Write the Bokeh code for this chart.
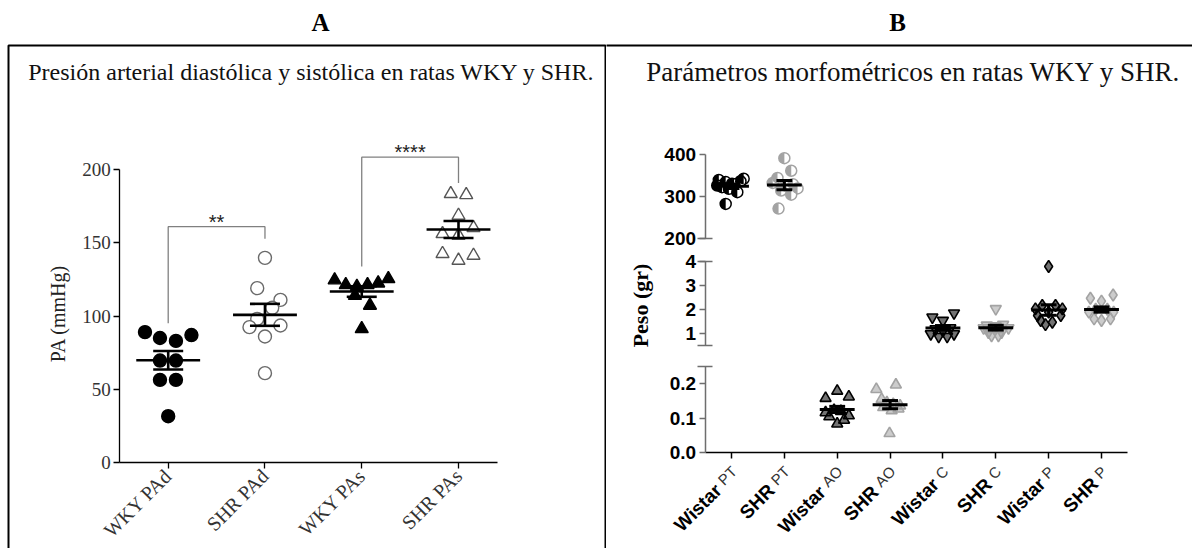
import math
from bokeh.plotting import figure
from bokeh.layouts import row
from bokeh.models import Range1d, LinearAxis, FixedTicker, BoxAnnotation, NumeralTickFormatter
from bokeh.core.properties import value
from bokeh.embed import file_html
from bokeh.resources import INLINE

# ------------------------------------------------------------------ data: panel A
a_heading = "A"
a_title = "Presión arterial diastólica y sistólica en ratas WKY y SHR."
a_ylabel = "PA (mmHg)"
a_categories = ["WKY PAd", "SHR PAd", "WKY PAs", "SHR PAs"]
a_yticks = [0, 50, 100, 150, 200]

wky_pad = [89, 85, 83, 87, 69.6, 69.6, 56.4, 56.4, 31.6]
wky_pad_jit = [-0.24, -0.085, 0.08, 0.24, -0.085, 0.08, -0.085, 0.08, 0.0]
shr_pad = [139.7, 119, 111, 105.6, 98, 92.4, 93.5, 86, 61]
shr_pad_jit = [0.0, -0.08, 0.16, 0.075, -0.08, -0.16, 0.16, 0.0, 0.0]
wky_pas = [124.5, 121.3, 120, 121.3, 122.4, 125.4, 114, 107.2, 91.2]
wky_pas_jit = [-0.28, -0.165, -0.05, 0.06, 0.17, 0.275, -0.07, 0.085, 0.0]
shr_pas = [183.4, 182.7, 168.6, 160.2, 156.1, 155, 142.5, 137.9, 141.3]
shr_pas_jit = [-0.08, 0.08, 0.0, 0.155, -0.165, 0.0, -0.165, 0.0, 0.155]

a_means = [69.8, 100.8, 116.7, 159.0]
a_sems = [6.3, 7.5, 3.6, 5.8]

sig_left = [0, 2]
sig_right = [1, 3]
sig_top = [161, 208.4]
sig_left_end = [95, 133.8]
sig_right_end = [152.7, 190.7]
sig_text = ["**", "****"]

# ------------------------------------------------------------------ data: panel B
b_heading = "B"
b_title = "Parámetros morfométricos en ratas WKY y SHR."
b_ylabel = "Peso (gr)"
b_strain = ["Wistar", "SHR", "Wistar", "SHR", "Wistar", "SHR", "Wistar", "SHR"]
b_organ = ["PT", "PT", "AO", "AO", "C", "C", "P", "P"]
b_yticks_top = [200, 300, 400]
b_yticks_mid = [1, 2, 3, 4]
b_yticks_bot = [0.0, 0.1, 0.2]

wistar_pt = [343, 340, 337, 335, 331, 330, 327, 323, 319, 311, 283]
wistar_pt_jit = [0.23, -0.24, 0.17, -0.11, 0.01, 0.05, -0.27, -0.18, -0.05, 0.11, -0.11]
shr_pt = [392, 362, 345, 333, 330, 325, 320, 315, 305, 272]
shr_pt_jit = [0.0, 0.13, -0.13, -0.22, 0.16, 0.03, 0.25, -0.06, 0.13, -0.11]
wistar_ao = [0.179, 0.158, 0.162, 0.123, 0.116, 0.107, 0.104, 0.094, 0.083, 0.12]
wistar_ao_jit = [0.0, -0.22, 0.22, -0.06, -0.22, 0.22, -0.15, 0.13, 0.0, 0.07]
shr_ao = [0.184, 0.197, 0.055, 0.155, 0.145, 0.140, 0.136, 0.131, 0.122, 0.127]
shr_ao_jit = [-0.26, 0.11, -0.01, -0.16, -0.06, 0.06, 0.19, -0.13, 0.03, 0.16]
wistar_c = [1.67, 1.84, 1.53, 1.18, 1.22, 0.97, 0.86, 0.86, 0.97, 1.10]
wistar_c_jit = [-0.2, 0.21, 0.0, -0.14, 0.14, -0.23, -0.08, 0.08, 0.21, 0.0]
shr_c = [2.02, 1.22, 1.22, 1.04, 1.04, 1.30, 0.90, 0.90, 1.36, 1.33]
shr_c_jit = [0.0, -0.23, 0.24, -0.14, 0.11, 0.0, -0.08, 0.05, 0.14, -0.17]
wistar_p = [3.79, 2.02, 2.02, 2.16, 2.16, 1.74, 1.74, 1.53, 1.46, 1.36, 1.88]
wistar_p_jit = [0.0, -0.25, 0.26, -0.12, 0.13, -0.21, 0.23, -0.15, 0.07, -0.06, 0.0]
shr_p = [2.46, 2.60, 2.34, 1.88, 2.00, 2.00, 1.88, 1.60, 1.53, 1.60]
shr_p_jit = [-0.21, 0.22, 0.0, -0.24, -0.11, 0.11, 0.23, -0.14, 0.0, 0.17]

b_means = [325, 328, 0.125, 0.139, 1.22, 1.23, 1.97, 1.99]
b_sems = [5.5, 11, 0.009, 0.012, 0.1, 0.1, 0.22, 0.11]

# ------------------------------------------------------------------ layout helpers
M = 0                      # the page template has no margin
W = 1192
H = 548
SPLIT = 606                # page x of the divider between the panels
FRAME_LEFT = 8
FRAME_TOP = 45


def lin(p0, v0, p1, v1):
    k = (v1 - v0) / (p1 - p0)
    return lambda p: v0 + (p - p0) * k


SERIF = "Liberation Serif"
SANS = "Liberation Sans"

# ================================================================== panel A
XA = lin(167.7, 0, 458.0, 3)
YA = lin(462.0, 0, 169.0, 200)
WA = SPLIT - M

pA = figure(width=WA, height=H, x_range=Range1d(XA(M), XA(SPLIT)),
            y_range=Range1d(YA(M + H), YA(M)), output_backend="svg",
            toolbar_location=None, x_axis_location=None, y_axis_location=None,
            min_border=0, outline_line_color=None)
pA.grid.visible = False

pA.add_layout(BoxAnnotation(left=XA(FRAME_LEFT), right=XA(SPLIT - 1), top=YA(FRAME_TOP), bottom=YA(M + H + 60),
                            fill_color=None, fill_alpha=0, line_color="black", line_alpha=1.0, line_width=2))

ya = LinearAxis(fixed_location=XA(119.3), bounds=(0, 200), ticker=FixedTicker(ticks=a_yticks, minor_ticks=[]),
                major_tick_out=6, major_tick_in=0, minor_tick_out=0, minor_tick_in=0,
                axis_line_color="black", axis_line_width=1.3, major_tick_line_width=1.3,
                major_label_text_font=SERIF, major_label_text_font_size="19px",
                major_label_text_color="#333333", major_label_standoff=3)
pA.add_layout(ya, "left")

xa = LinearAxis(fixed_location=0, bounds=(XA(119.3), 3.4),
                ticker=FixedTicker(ticks=list(range(len(a_categories))), minor_ticks=[]),
                major_label_overrides={i: c for i, c in enumerate(a_categories)},
                major_label_orientation=math.pi / 4,
                major_tick_out=6, major_tick_in=0, minor_tick_out=0, minor_tick_in=0,
                axis_line_color="black", axis_line_width=1.3, major_tick_line_width=1.3,
                major_label_text_font=SERIF, major_label_text_font_size="20px",
                major_label_text_color="#333333", major_label_standoff=4)
pA.add_layout(xa, "below")

a_groups = [
    (wky_pad, wky_pad_jit, "circle", "black", "black", 13),
    (shr_pad, shr_pad_jit, "circle", "white", "#6a6a6a", 13),
    (wky_pas, wky_pas_jit, "triangle", "black", "black", 13),
    (shr_pas, shr_pas_jit, "triangle", "white", "#555555", 13),
]
for i, (vals, jit, marker, fill, line, size) in enumerate(a_groups):
    pA.scatter(x=[i + j for j in jit], y=vals, marker=marker, size=size,
               fill_color=fill, line_color=line, line_width=1.4)

idx = list(range(len(a_categories)))
pA.segment(x0=[i - 0.33 for i in idx], x1=[i + 0.33 for i in idx], y0=a_means, y1=a_means,
           line_color="black", line_width=2.6)
pA.segment(x0=idx, x1=idx, y0=[m - s for m, s in zip(a_means, a_sems)],
           y1=[m + s for m, s in zip(a_means, a_sems)], line_color="black", line_width=2.6)
for sign in (1, -1):
    ys = [m + sign * s for m, s in zip(a_means, a_sems)]
    pA.segment(x0=[i - 0.155 for i in idx], x1=[i + 0.155 for i in idx], y0=ys, y1=ys,
               line_color="black", line_width=2.6)

pA.multi_line(xs=[[l, l, r, r] for l, r in zip(sig_left, sig_right)],
              ys=[[le, t, t, re] for le, t, re in zip(sig_left_end, sig_top, sig_right_end)],
              line_color="#808080", line_width=1.3)
pA.text(x=[(l + r) / 2 for l, r in zip(sig_left, sig_right)], y=sig_top, text=sig_text,
        text_align="center", text_baseline="alphabetic", y_offset=-5,
        text_font=value(SANS), text_font_size="20px", text_color="#222222")

pA.text(x=[XA(320)], y=[YA(22)], text=[a_heading], text_align="center", text_baseline="middle",
        text_font=value(SERIF), text_font_style="bold", text_font_size="25px", text_color="black")
pA.text(x=[XA(311)], y=[YA(71)], text=[a_title], text_align="center", text_baseline="middle",
        text_font=value(SERIF), text_font_size="24px", text_color="#111111")
pA.text(x=[XA(57)], y=[YA(313)], text=[a_ylabel], angle=math.pi / 2, text_align="center",
        text_baseline="middle", text_font=value(SERIF), text_font_size="20px", text_color="#222222")

# ================================================================== panel B
XB = lin(731.0, 0, 1101.0, 7)
YBb = lin(451.7, 0.0, 383.3, 0.2)
YBm = lin(332.7, 1.0, 261.0, 4.0)
YBt = lin(238.3, 200.0, 154.3, 400.0)
WB = M + W - SPLIT

pB = figure(width=WB, height=H, x_range=Range1d(XB(SPLIT), XB(M + W)),
            y_range=Range1d(YBb(M + H), YBb(M)), output_backend="svg",
            toolbar_location=None, x_axis_location=None, y_axis_location=None,
            min_border=0, outline_line_color=None)
pB.grid.visible = False
pB.extra_y_ranges = {"mid": Range1d(YBm(M + H), YBm(M)), "top": Range1d(YBt(M + H), YBt(M))}

pB.add_layout(BoxAnnotation(left=XB(SPLIT - 20), right=XB(M + W + 60), top=YBb(FRAME_TOP), bottom=YBb(M + H + 60),
                            fill_color=None, fill_alpha=0, line_color="black", line_alpha=1.0, line_width=2))

AXIS_GRAY = "#6e6e6e"
segments = [
    ("default", (0.0, 0.25), b_yticks_bot, "0.0", [0.25]),
    ("mid", (0.5, 4.0), b_yticks_mid, "0", [0.5, 4.0]),
    ("top", (200.0, 400.0), b_yticks_top, "0", [200.0]),
]
for rname, bnds, ticks, fmt, caps in segments:
    ax = LinearAxis(y_range_name=rname, fixed_location=-0.5, bounds=bnds,
                    ticker=FixedTicker(ticks=ticks, minor_ticks=[]),
                    formatter=NumeralTickFormatter(format=fmt),
                    major_tick_out=6, major_tick_in=0, minor_tick_out=0, minor_tick_in=0,
                    axis_line_color=AXIS_GRAY, axis_line_width=1.5,
                    major_tick_line_color=AXIS_GRAY, major_tick_line_width=1.5,
                    major_label_text_font=SANS, major_label_text_font_style="bold",
                    major_label_text_font_size="19px", major_label_text_color="black",
                    major_label_standoff=3)
    pB.add_layout(ax, "left")
    cap = LinearAxis(y_range_name=rname, fixed_location=-0.5, bounds=(min(caps) - 0.001, max(caps) + 0.001),
                     ticker=FixedTicker(ticks=caps, minor_ticks=[]),
                     major_tick_out=8, major_tick_in=7, minor_tick_out=0, minor_tick_in=0,
                     axis_line_color=None, major_tick_line_color=AXIS_GRAY, major_tick_line_width=1.5,
                     major_label_text_color=None)
    pB.add_layout(cap, "left")

xb = LinearAxis(fixed_location=0, bounds=(-0.5, 7.5),
                ticker=FixedTicker(ticks=list(range(len(b_strain))), minor_ticks=[]),
                major_tick_out=6, major_tick_in=0, minor_tick_out=0, minor_tick_in=0,
                axis_line_color="black", axis_line_width=1.5, major_tick_line_width=1.5,
                major_label_text_color=None)
pB.add_layout(xb, "below")

BLACK = "#000000"
GRAY = "#a3a3a3"
b_groups = [
    (wistar_pt, wistar_pt_jit, "circle", "top", BLACK),
    (shr_pt, shr_pt_jit, "circle", "top", GRAY),
    (wistar_ao, wistar_ao_jit, "triangle", "default", BLACK),
    (shr_ao, shr_ao_jit, "triangle", "default", GRAY),
    (wistar_c, wistar_c_jit, "inverted_triangle", "mid", BLACK),
    (shr_c, shr_c_jit, "inverted_triangle", "mid", GRAY),
    (wistar_p, wistar_p_jit, "diamond", "mid", BLACK),
    (shr_p, shr_p_jit, "diamond", "mid", GRAY),
]
for i, (vals, jit, marker, rname, col) in enumerate(b_groups):
    xs = [i + j for j in jit]
    if marker == "circle":
        pB.scatter(x=xs, y=vals, marker="circle", size=11, fill_color="white", line_color=col,
                   line_width=1.5, y_range_name=rname)
        pB.wedge(x=xs, y=vals, radius=5.5, radius_units="screen", start_angle=math.pi / 2,
                 end_angle=3 * math.pi / 2, fill_color=col, line_color=None, y_range_name=rname)
    else:
        size = 12 if marker == "diamond" else 11
        pB.scatter(x=xs, y=vals, marker=marker, size=size, fill_color=col, fill_alpha=0.55,
                   line_color=col, line_width=1.6, y_range_name=rname)
    m, s = b_means[i], b_sems[i]
    pB.segment(x0=[i - 0.33], x1=[i + 0.33], y0=[m], y1=[m], line_color="black", line_width=3,
               y_range_name=rname)
    pB.segment(x0=[i], x1=[i], y0=[m - s], y1=[m + s], line_color="black", line_width=3,
               y_range_name=rname)
    pB.segment(x0=[i - 0.15, i - 0.15], x1=[i + 0.15, i + 0.15], y0=[m - s, m + s], y1=[m - s, m + s],
               line_color="black", line_width=3, y_range_name=rname)

# mixed-style category labels (bold strain + light organ suffix), rotated 45 degrees
EM = {"P": 0.667, "T": 0.611, "A": 0.667, "O": 0.778, "C": 0.722}
SUF = 15
c45 = math.cos(math.pi / 4)
axis_py = 451.7
suf_x, suf_y, str_x, str_y = [], [], [], []
for i, org in enumerate(b_organ):
    tx = 731.0 + i * (370.0 / 7)
    ax_, ay_ = tx + 4, axis_py + 18
    suf_x.append(XB(ax_ - 1.5))
    suf_y.append(YBb(ay_ - 1.5))
    d = sum(EM[ch] for ch in org) * SUF + 5
    str_x.append(XB(ax_ - c45 * d))
    str_y.append(YBb(ay_ + c45 * d))
pB.text(x=suf_x, y=suf_y, text=b_organ, angle=math.pi / 4, text_align="right", text_baseline="middle",
        text_font=value(SANS), text_font_size=f"{SUF}px", text_color="#333333")
pB.text(x=str_x, y=str_y, text=b_strain, angle=math.pi / 4, text_align="right", text_baseline="middle",
        text_font=value(SANS), text_font_style="bold", text_font_size="19px", text_color="black")

pB.text(x=[XB(897)], y=[YBb(22)], text=[b_heading], text_align="center", text_baseline="middle",
        text_font=value(SERIF), text_font_style="bold", text_font_size="25px", text_color="black")
pB.text(x=[XB(913)], y=[YBb(71)], text=[b_title], text_align="center", text_baseline="middle",
        text_font=value(SERIF), text_font_size="27px", text_color="#111111")
pB.text(x=[XB(640)], y=[YBm(305)], text=[b_ylabel], angle=math.pi / 2, text_align="center",
        text_baseline="middle", text_font=value(SERIF), text_font_style="bold", text_font_size="22px",
        text_color="black", y_range_name="mid")

layout = row(pA, pB)
open("out.html", "w").write(file_html(layout, INLINE))
